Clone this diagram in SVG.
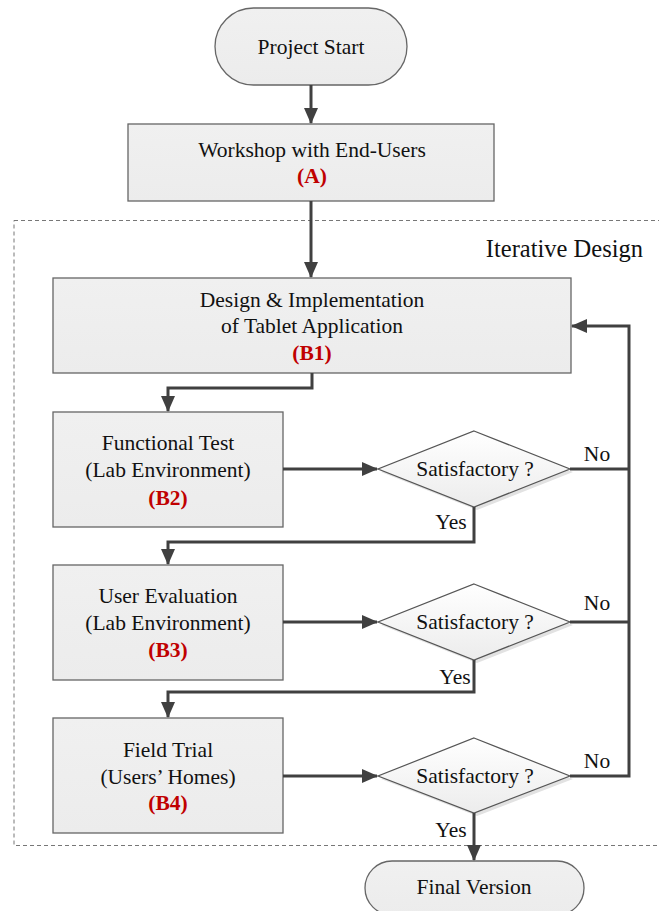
<svg xmlns="http://www.w3.org/2000/svg" width="659" height="911" viewBox="0 0 659 911">
<defs>
<style>
text{font-family:'Liberation Serif','Times New Roman',Times,'DejaVu Serif',serif;font-size:21.5px;fill:#111;text-anchor:middle}
.r{font-weight:bold;fill:#c00000}
.box{fill:url(#gb);stroke:#666;stroke-width:1.3}
.dia{fill:url(#gd);stroke:#555;stroke-width:1.2}
.sh{fill:#e2e2e2}
.c{fill:none;stroke:#404040;stroke-width:3}
</style>
<linearGradient id="gb" x1="0" y1="0" x2="0" y2="1"><stop offset="0" stop-color="#f0f0f0"/><stop offset="1" stop-color="#ececec"/></linearGradient>
<linearGradient id="gd" x1="0" y1="0" x2="0" y2="1"><stop offset="0" stop-color="#ffffff"/><stop offset="1" stop-color="#ececec"/></linearGradient>
<marker id="ar" viewBox="0 0 16 14" refX="15" refY="7" markerWidth="16" markerHeight="14" markerUnits="userSpaceOnUse" orient="auto"><path d="M0,0 L16,7 L0,14 z" fill="#404040"/></marker>
</defs>
<rect width="659" height="911" fill="#fff"/>
<g id="iterative">
<rect x="14" y="220.5" width="660" height="625" fill="none" stroke="#777" stroke-width="1" stroke-dasharray="4 3"/>
<text x="643" y="257" style="text-anchor:end;font-size:24.5px">Iterative Design</text>
</g>

<g id="start"><rect class="box" x="215" y="8" width="192" height="77" rx="38.5"/><text x="311" y="54">Project Start</text></g>
<g id="A"><rect class="box" x="128" y="124" width="366" height="77"/><text x="312" y="157">Workshop with End-Users</text><text class="r" x="312" y="183">(A)</text></g>
<g id="B1"><rect class="box" x="53" y="278" width="518" height="95"/><text x="312" y="307">Design &amp; Implementation</text><text x="312" y="333">of Tablet Application</text><text class="r" x="312" y="360">(B1)</text></g>
<g id="B2"><rect class="box" x="53" y="412" width="230" height="115"/><text x="168" y="450">Functional Test</text><text x="168" y="477">(Lab Environment)</text><text class="r" x="168" y="505">(B2)</text></g>
<g id="B3"><rect class="box" x="53" y="565" width="230" height="115"/><text x="168" y="603">User Evaluation</text><text x="168" y="630">(Lab Environment)</text><text class="r" x="168" y="657">(B3)</text></g>
<g id="B4"><rect class="box" x="53" y="718" width="230" height="115"/><text x="168" y="757">Field Trial</text><text x="168" y="784">(Users’ Homes)</text><text class="r" x="168" y="810">(B4)</text></g>
<g id="D1"><polygon class="sh" points="477,434 573,472 477,510 381,472"/><polygon class="dia" points="474,431 570,469 474,507 378,469"/><text x="475" y="476">Satisfactory ?</text></g>
<g id="D2"><polygon class="sh" points="477,587 573,625 477,663 381,625"/><polygon class="dia" points="474,584 570,622 474,660 378,622"/><text x="475" y="629">Satisfactory ?</text></g>
<g id="D3"><polygon class="sh" points="477,741 573,779 477,816 381,779"/><polygon class="dia" points="474,738 570,776 474,813 378,776"/><text x="475" y="783">Satisfactory ?</text></g>
<g id="final"><rect class="box" x="365" y="861" width="219" height="54" rx="27"/><text x="474" y="894">Final Version</text></g>

<g id="connectors">
<path class="c" d="M311 85 V123" marker-end="url(#ar)"/>
<path class="c" d="M311 201 V277" marker-end="url(#ar)"/>
<path class="c" d="M312 373 V388 H168 V411" marker-end="url(#ar)"/>
<path class="c" d="M283 469 H377" marker-end="url(#ar)"/>
<path class="c" d="M283 622 H377" marker-end="url(#ar)"/>
<path class="c" d="M283 776 H377" marker-end="url(#ar)"/>
<path class="c" d="M570 469 H629"/>
<path class="c" d="M570 622 H629"/>
<path class="c" d="M570 776 H629 V326 H572" marker-end="url(#ar)"/>
<path class="c" d="M474 507 V542 H168 V564" marker-end="url(#ar)"/>
<path class="c" d="M474 660 V692 H168 V717" marker-end="url(#ar)"/>
<path class="c" d="M474 813 V860" marker-end="url(#ar)"/>
<text x="597" y="461">No</text>
<text x="597" y="610">No</text>
<text x="597" y="768">No</text>
<text x="451" y="529">Yes</text>
<text x="455" y="684">Yes</text>
<text x="451" y="837">Yes</text>
</g>
</svg>
